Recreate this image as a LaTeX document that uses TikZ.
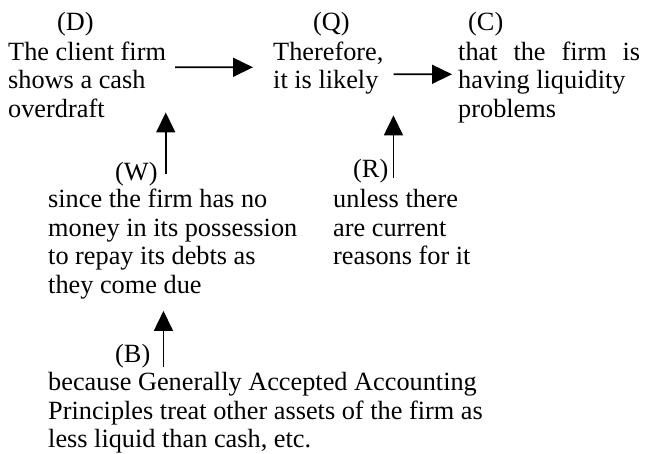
\documentclass[tikz,border=0pt]{standalone}
\usepackage{fontspec}
\setmainfont{Liberation Serif}
\usetikzlibrary{arrows.meta}
\begin{document}
\begin{tikzpicture}[x=1pt,y=-1pt,
  txt/.style={anchor=base west,inner sep=0pt,align=left,font=\fontsize{26.3}{28.5}\selectfont},
  arr/.style={line width=1.6pt,-{Triangle[length=20pt,width=19pt]}}]
\useasboundingbox (0,0) rectangle (645,453);
\node[txt] (labD) at (57,30) {(D)};
\node[txt] (labQ) at (313,30) {(Q)};
\node[txt] (labC) at (468,30) {(C)};
\node[txt] (D) at (8,117) {The client firm\\shows a cash\\overdraft};
\node[txt] (Q) at (273,88.5) {Therefore,\\it is likely};
\node[txt] (C) at (458,117) {\makebox[182pt][s]{that the firm is}\\having liquidity\\problems};
\node[txt] (labW) at (115,180) {(W)};
\node[txt] (labR) at (353,177) {(R)};
\node[txt] (W) at (48,293) {since the firm has no\\money in its possession\\to repay its debts as\\they come due};
\node[txt] (R) at (333,264.5) {unless there\\are current\\reasons for it};
\node[txt] (labB) at (115,362) {(B)};
\node[txt] (B) at (48,447.5) {because Generally Accepted Accounting\\Principles treat other assets of the firm as\\less liquid than cash, etc.};
\draw[arr] ([shift={(9,26)}]D.north east) -- ([shift={(-20,26)}]Q.north west);
\draw[arr] ([shift={(10,33)}]Q.north east) -- ([shift={(-6,33)}]C.north west);
\coordinate (wfoot) at ([shift={(8,-6)}]labW.base east);
\draw[arr] (wfoot) -- ([shift={(0,-5)}]wfoot |- D.south);
\coordinate (rfoot) at ([shift={(5,1)}]labR.base east);
\draw[arr] (rfoot) -- ([shift={(0,21)}]rfoot |- Q.south);
\coordinate (bfoot) at ([shift={(13,5)}]labB.base east);
\draw[arr] (bfoot) -- ([shift={(0,12)}]bfoot |- W.south);
\end{tikzpicture}
\end{document}
